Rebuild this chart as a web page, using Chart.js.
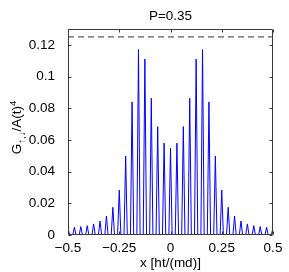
<!DOCTYPE html>
<html><head><meta charset="utf-8">
<script src="https://cdn.jsdelivr.net/npm/chart.js@4"></script>
<style>html,body{margin:0;padding:0;background:#fff;overflow:hidden}canvas{display:block}</style>
</head><body>
<canvas id="c" width="289" height="272"></canvas>
<script>
const titleText = 'P=0.35';
const xTitle = 'x [ht/(md)]';
const xTicks = [-0.5, -0.25, 0, 0.25, 0.5];
const yTicks = [0, 0.02, 0.04, 0.06, 0.08, 0.1, 0.12];
const xRange = [-0.5, 0.5];
const yRange = [0, 0.13];
const refLevel = 0.125;

// resonance peaks (position, height)
const peakX = [-0.5, -0.46875, -0.4375, -0.40625, -0.375, -0.34375, -0.3125, -0.28125,
  -0.25, -0.21875, -0.1875, -0.15625, -0.125, -0.09375, -0.0625, -0.03125, 0,
  0.03125, 0.0625, 0.09375, 0.125, 0.15625, 0.1875, 0.21875, 0.25,
  0.28125, 0.3125, 0.34375, 0.375, 0.40625, 0.4375, 0.46875, 0.5];
const peakY = [0.0045, 0.0049, 0.0053, 0.0059, 0.007, 0.0088, 0.012, 0.0175,
  0.0284, 0.0498, 0.084, 0.117, 0.111, 0.0863, 0.0684, 0.058, 0.0547,
  0.058, 0.0684, 0.0863, 0.111, 0.117, 0.084, 0.0498, 0.0284,
  0.0175, 0.012, 0.0088, 0.007, 0.0059, 0.0053, 0.0049, 0.0045];
// half-width of each peak's foot (where the curve returns to zero)
const peakFootHalfWidth = 0.008;
const baseLevel = 0;

const FONT = "'Liberation Sans', Arial, Helvetica, sans-serif";

const pts = [];
for (let i = 0; i < peakX.length; i++) {
  if (peakX[i] - peakFootHalfWidth >= xRange[0]) pts.push({x: peakX[i] - peakFootHalfWidth, y: baseLevel});
  pts.push({x: peakX[i], y: peakY[i]});
  if (peakX[i] + peakFootHalfWidth <= xRange[1]) pts.push({x: peakX[i] + peakFootHalfWidth, y: baseLevel});
}

function fmtX(v) { return v < 0 ? '\u2212' + Math.abs(v) : String(v); }
function fmtY(v) { return String(+v.toFixed(2)); }

const frame = {
  id: 'frame',
  afterDraw(chart) {
    const {ctx, chartArea: a, scales: {x, y}} = chart;
    const L = Math.round(a.left) + 0.5, R = Math.round(a.right) - 0.5;
    const T = Math.round(a.top) + 0.5, B = Math.round(a.bottom) - 0.5;
    ctx.save();
    ctx.strokeStyle = '#3a3a3a';
    ctx.lineWidth = 1;
    ctx.beginPath();
    ctx.rect(L, T, R - L, B - T);
    const tl = 3;
    xTicks.forEach(v => {
      const p = Math.round(x.getPixelForValue(v)) + 0.5;
      ctx.moveTo(p, B); ctx.lineTo(p, B - tl);
      ctx.moveTo(p, T); ctx.lineTo(p, T + tl);
    });
    yTicks.forEach(v => {
      const p = Math.round(y.getPixelForValue(v)) + 0.5;
      ctx.moveTo(L, p); ctx.lineTo(L + tl, p);
      ctx.moveTo(R, p); ctx.lineTo(R - tl, p);
    });
    ctx.stroke();
    // title centred over the plot box
    ctx.fillStyle = '#000';
    ctx.font = '13.5px ' + FONT;
    ctx.textAlign = 'center';
    ctx.textBaseline = 'middle';
    ctx.fillText(titleText, (a.left + a.right) / 2, 16);
    // y-axis label with subscript / superscript
    const parts = [
      {t: 'G', s: 13.5, dy: 0},
      {t: '\u2191,\u2193', s: 9.5, dy: 4},
      {t: '/A(t)', s: 13.5, dy: 0},
      {t: '4', s: 9.5, dy: -5}
    ];
    ctx.textBaseline = 'alphabetic';
    ctx.textAlign = 'left';
    let total = 0;
    parts.forEach(p => { ctx.font = p.s + 'px ' + FONT; p.w = ctx.measureText(p.t).width; total += p.w; });
    ctx.translate(20.5, 127.5);
    ctx.rotate(-Math.PI / 2);
    let cx = -total / 2;
    parts.forEach(p => { ctx.font = p.s + 'px ' + FONT; ctx.fillText(p.t, cx, p.dy); cx += p.w; });
    ctx.restore();
  }
};

new Chart(document.getElementById('c'), {
  type: 'line',
  data: {
    datasets: [
      {data: pts, borderColor: '#0000ff', borderWidth: 1, pointRadius: 0, tension: 0, fill: false,
       borderJoinStyle: 'round'},
      {data: [{x: xRange[0], y: refLevel}, {x: xRange[1], y: refLevel}], borderColor: '#333333',
       borderWidth: 1, borderDash: [6, 4], pointRadius: 0, fill: false}
    ]
  },
  options: {
    responsive: false,
    devicePixelRatio: 1,
    animation: false,
    layout: {padding: {left: 0, right: 16, top: 29, bottom: 0}},
    plugins: {
      legend: {display: false},
      tooltip: {enabled: false},
      title: {display: false}
    },
    scales: {
      x: {
        type: 'linear', min: xRange[0], max: xRange[1],
        grid: {display: false}, border: {display: false},
        afterBuildTicks: s => { s.ticks = xTicks.map(v => ({value: v})); },
        ticks: {color: '#000', font: {family: FONT, size: 13.5}, padding: -3, maxRotation: 0,
          autoSkip: false, callback: v => fmtX(v)},
        title: {display: true, text: xTitle, color: '#000', font: {family: FONT, size: 13.5},
          padding: {top: 0, bottom: 1}},
        afterFit: s => { s.height = 37; }
      },
      y: {
        type: 'linear', min: yRange[0], max: yRange[1],
        grid: {display: false}, border: {display: false},
        afterBuildTicks: s => { s.ticks = yTicks.map(v => ({value: v})); },
        ticks: {color: '#000', font: {family: FONT, size: 13.5}, padding: 5, autoSkip: false,
          callback: v => fmtY(v)},
        afterFit: s => { s.width = 68; }
      }
    }
  },
  plugins: [frame]
});
</script>
</body></html>
